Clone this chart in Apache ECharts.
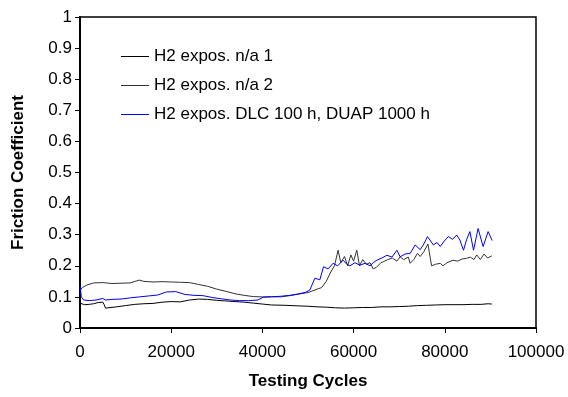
<!DOCTYPE html>
<html>
<head>
<meta charset="utf-8">
<script src="https://cdn.jsdelivr.net/npm/echarts@6/dist/echarts.min.js"></script>
<style>html,body{margin:0;padding:0;background:#fff}#c{width:568px;height:397px}</style>
</head>
<body>
<div id="c"></div>
<script>
const seriesNames = ["H2 expos. n/a 1", "H2 expos. n/a 2", "H2 expos. DLC 100 h, DUAP 1000 h"];
const xTicks = [0, 20000, 40000, 60000, 80000, 100000];
const yTicks = [0, 0.1, 0.2, 0.3, 0.4, 0.5, 0.6, 0.7, 0.8, 0.9, 1];

const x1 = [0,1000,2000,3000,4000,5000,5300,5600,8000,10000,12000,14000,16000,18000,20000,22000,24000,26000,28000,30000,32000,34000,36000,38000,40000,42000,45000,48000,50000,52000,54000,56000,58000,60000,62000,64000,66000,68000,70000,72000,74000,76000,78000,80000,82000,84000,86000,88000,89500,90300];
const y1 = [0.08,0.075,0.076,0.078,0.082,0.083,0.075,0.064,0.068,0.072,0.076,0.078,0.079,0.083,0.085,0.084,0.09,0.093,0.092,0.089,0.087,0.085,0.083,0.08,0.077,0.074,0.073,0.071,0.07,0.068,0.067,0.065,0.064,0.065,0.066,0.066,0.068,0.068,0.069,0.07,0.072,0.073,0.074,0.075,0.075,0.075,0.076,0.076,0.078,0.077];

const x2 = [0,500,1500,3000,5000,7000,9000,11000,13000,14000,16000,18000,20000,22000,24000,26000,28000,30000,32000,34000,36000,38000,40000,42000,44000,46000,48000,50000,52000,53000,54000,55000,55800,56600,57200,58000,58700,59400,60000,60700,61300,62000,62800,63600,64300,65000,66000,66500,67500,68500,69500,70200,71000,72000,72400,73200,74000,74600,75400,76300,77100,78000,79000,79600,80500,81800,82800,83800,84800,85600,86400,87000,87800,88600,89400,90300];
const y2 = [0.12,0.13,0.138,0.145,0.146,0.143,0.144,0.145,0.154,0.15,0.148,0.149,0.148,0.147,0.146,0.14,0.134,0.125,0.118,0.11,0.105,0.101,0.1,0.101,0.1,0.104,0.109,0.114,0.125,0.13,0.15,0.18,0.2,0.25,0.21,0.23,0.2,0.235,0.215,0.25,0.2,0.22,0.205,0.21,0.19,0.195,0.21,0.213,0.22,0.225,0.215,0.229,0.22,0.228,0.208,0.22,0.24,0.23,0.245,0.27,0.2,0.205,0.208,0.2,0.21,0.218,0.215,0.222,0.224,0.228,0.22,0.235,0.22,0.238,0.225,0.232];

const x3 = [0,300,800,2000,3500,5000,5300,5600,7000,9000,11000,13000,15000,17000,19000,21000,23000,25000,27000,29000,31000,33000,35000,37000,39000,40200,42000,44000,46000,48000,49500,50400,51500,52600,53400,54400,55500,56500,57700,58500,59200,60300,61400,62500,63600,64300,65100,66200,67300,68400,69500,70200,71300,72400,73500,74600,75400,76200,77500,78300,79000,79900,80800,81700,82600,83300,84100,84800,85500,86300,87300,88400,89500,90400];
const y3 = [0.135,0.1,0.09,0.088,0.09,0.095,0.1,0.09,0.092,0.093,0.097,0.1,0.103,0.106,0.116,0.117,0.108,0.105,0.104,0.098,0.094,0.09,0.088,0.088,0.09,0.099,0.1,0.102,0.105,0.11,0.115,0.122,0.16,0.155,0.197,0.19,0.208,0.2,0.218,0.205,0.2,0.21,0.202,0.208,0.2,0.21,0.218,0.225,0.234,0.228,0.25,0.229,0.238,0.24,0.267,0.252,0.27,0.294,0.267,0.275,0.262,0.28,0.294,0.285,0.299,0.283,0.25,0.285,0.31,0.25,0.32,0.262,0.31,0.281];

const colors = ["#000000", "#333333", "#0000ff"];
const pairs = (xs, ys) => xs.map((x, i) => [x, ys[i]]);
const allX = [x1, x2, x3], allY = [y1, y2, y3];

const font = "Liberation Sans, Arial, sans-serif";
const fs = 17;
const chart = echarts.init(document.getElementById('c'), null, {renderer: 'canvas'});
chart.setOption({
  animation: false,
  backgroundColor: '#fff',
  color: colors,
  grid: {left: 80, top: 17, right: 32, bottom: 69, show: true, borderColor: '#000', borderWidth: 1.5, backgroundColor: 'transparent'},
  legend: {
    orient: 'vertical', left: 116, top: 42, itemWidth: 28, itemHeight: 1, itemGap: 10, icon: 'rect',
    textStyle: {fontFamily: font, fontSize: fs, color: '#000', lineHeight: 19},
    data: seriesNames.map((n, i) => ({name: n, itemStyle: {color: colors[i], borderWidth: 0}}))
  },
  xAxis: {
    type: 'value', min: 0, max: 100000, interval: 20000,
    name: 'Testing Cycles', nameLocation: 'middle', nameGap: 45,
    nameTextStyle: {fontFamily: font, fontSize: fs, fontWeight: 'bold', color: '#000'},
    axisLine: {show: true, lineStyle: {color: '#000', width: 2}},
    axisTick: {show: true, inside: false, length: 5, lineStyle: {color: '#000', width: 1}},
    axisLabel: {fontFamily: font, fontSize: fs, color: '#000', margin: 16, formatter: v => String(v)},
    splitLine: {show: false}
  },
  yAxis: {
    type: 'value', min: 0, max: 1, interval: 0.1,
    name: 'Friction Coefficient', nameLocation: 'middle', nameGap: 53,
    nameTextStyle: {fontFamily: font, fontSize: fs, fontWeight: 'bold', color: '#000'},
    axisLine: {show: true, lineStyle: {color: '#000', width: 2}},
    axisTick: {show: true, inside: false, length: 5, lineStyle: {color: '#000', width: 1}},
    axisLabel: {fontFamily: font, fontSize: fs, color: '#000', margin: 8, formatter: v => String(Math.round(v * 10) / 10)},
    splitLine: {show: false}
  },
  series: seriesNames.map((n, i) => ({
    name: n, type: 'line', symbol: 'none', showSymbol: false,
    data: pairs(allX[i], allY[i]),
    color: colors[i],
    lineStyle: {color: colors[i], width: 1},
    itemStyle: {color: colors[i]},
    z: i === 2 ? 3 : 2
  }))
});
</script>
</body>
</html>
